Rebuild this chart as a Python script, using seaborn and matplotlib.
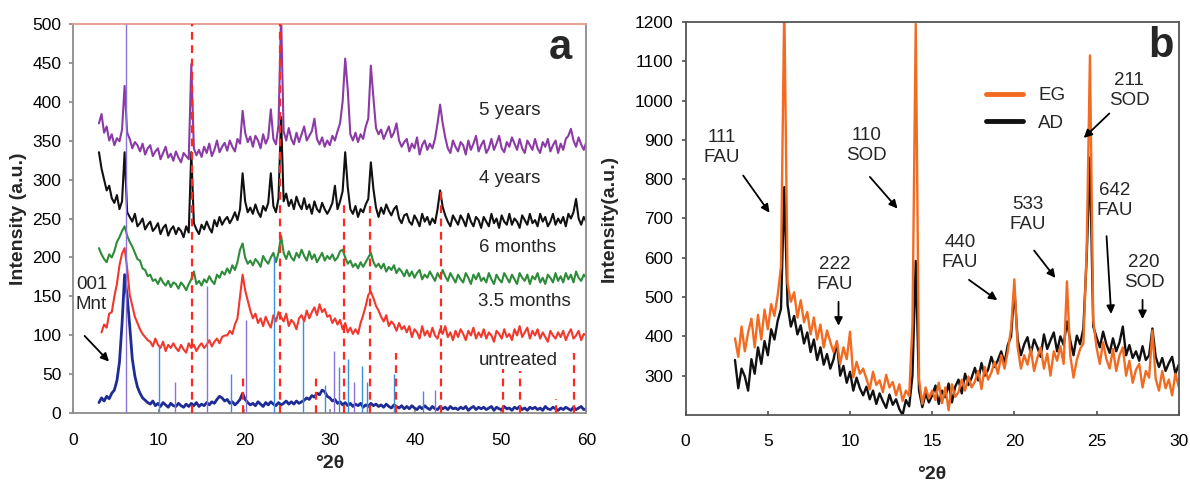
import numpy as np
import pandas as pd
import matplotlib
matplotlib.use("Agg")
import matplotlib.pyplot as plt
import seaborn as sns
from matplotlib.lines import Line2D

sns.set_theme(style="white")
plt.rcParams['font.family'] = ['Liberation Sans', 'DejaVu Sans']

# ---------------- panel a : ageing series (scan 3-60 deg, 0.3 deg step) ----------------
two_theta_a = np.round(np.arange(3.0, 60.05, 0.3), 1)

five_years = [
    372, 384, 360, 368, 350, 358, 344, 353, 349, 364,
    420, 360, 352, 340, 348, 344, 336, 346, 332, 340,
    344, 330, 336, 340, 326, 334, 342, 328, 333, 324,
    336, 328, 322, 334, 330, 326, 448, 340, 331, 338,
    329, 342, 334, 346, 330, 338, 350, 335, 342, 347,
    337, 350, 342, 336, 352, 346, 388, 360, 348, 355,
    342, 356, 350, 340, 358, 346, 354, 390, 352, 345,
    370, 510, 362, 350, 366, 352, 345, 360, 348, 358,
    368, 350, 356, 362, 378, 352, 345, 354, 342, 350,
    344, 356, 350, 362, 372, 400, 455, 415, 358, 350,
    360, 348, 358, 352, 368, 378, 446, 405, 366, 358,
    364, 352, 360, 368, 354, 360, 372, 350, 342, 348,
    352, 336, 346, 340, 354, 332, 344, 350, 338, 346,
    340, 352, 372, 396, 372, 354, 340, 334, 350, 342,
    336, 348, 344, 332, 350, 338, 346, 356, 336, 344,
    350, 334, 340, 352, 338, 346, 356, 340, 335, 348,
    342, 354, 346, 338, 352, 340, 334, 350, 344, 338,
    352, 340, 334, 348, 342, 352, 336, 344, 350, 334,
    346, 338, 352, 356, 365, 350, 342, 354, 345, 338,
    348,
]

four_years = [
    335, 314, 300, 286, 292, 276, 270, 280, 262, 272,
    335, 258, 252, 246, 256, 240, 244, 250, 236, 242,
    246, 234, 238, 244, 230, 238, 242, 228, 236, 240,
    230, 238, 234, 226, 240, 232, 335, 244, 236, 230,
    242, 236, 246, 238, 232, 248, 240, 252, 242, 248,
    252, 244, 250, 258, 248, 262, 308, 272, 258, 264,
    256, 268, 258, 252, 266, 260, 270, 308, 266, 258,
    276, 380, 272, 282, 266, 274, 262, 278, 268, 262,
    276, 262, 268, 256, 272, 262, 258, 270, 262, 256,
    262, 270, 292, 262, 272, 285, 335, 290, 262, 256,
    266, 252, 262, 258, 268, 275, 322, 288, 264, 252,
    264, 256, 268, 260, 254, 262, 266, 250, 244, 254,
    256, 246, 242, 254, 248, 240, 256, 246, 252, 242,
    250, 244, 262, 286, 265, 254, 246, 240, 254, 248,
    242, 254, 248, 240, 256, 246, 240, 252, 248, 238,
    252, 246, 240, 256, 244, 250, 238, 254, 246, 242,
    256, 242, 250, 246, 238, 254, 248, 242, 256, 244,
    248, 240, 256, 246, 252, 240, 246, 256, 242, 250,
    244, 252, 240, 256, 250, 258, 275, 250, 242, 252,
    246,
]

six_months = [
    212, 204, 198, 194, 204, 200, 208, 220, 226, 234,
    240, 228, 220, 214, 206, 198, 196, 186, 184, 176,
    178, 170, 172, 166, 174, 168, 164, 170, 162, 168,
    166, 160, 168, 164, 158, 166, 172, 182, 166, 170,
    164, 172, 168, 176, 170, 166, 178, 174, 182, 178,
    186, 180, 190, 184, 194, 210, 218, 200, 192, 196,
    190, 198, 194, 188, 202, 196, 192, 200, 206, 194,
    206, 228, 206, 198, 208, 200, 196, 206, 200, 210,
    202, 196, 208, 198, 204, 194, 200, 206, 196, 202,
    198, 204, 196, 200, 208, 210, 200, 192, 196, 188,
    192, 186, 194, 188, 194, 200, 206, 194, 188, 192,
    186, 192, 182, 188, 184, 190, 180, 186, 182, 176,
    184, 176, 182, 174, 180, 184, 172, 178, 174, 182,
    176, 170, 180, 174, 184, 176, 170, 180, 174, 168,
    178, 172, 168, 180, 174, 166, 178, 172, 180, 170,
    174, 168, 180, 172, 166, 178, 172, 168, 180, 174,
    168, 178, 172, 166, 180, 174, 170, 178, 166, 176,
    172, 180, 168, 174, 166, 178, 174, 168, 180, 170,
    176, 168, 180, 172, 178, 168, 182, 174, 170, 178,
    174,
]

three_half_months = [
    np.nan, 104, 114, 110, 128, 130, 150, 166, 190, 205,
    212, 186, 152, 138, 124, 116, 108, 102, 98, 94,
    92, 86, 96, 88, 84, 92, 80, 88, 84, 90,
    84, 80, 88, 82, 78, 90, 84, 88, 80, 86,
    90, 84, 88, 94, 86, 92, 96, 90, 98, 100,
    100, 106, 102, 114, 122, 150, 178, 158, 145, 132,
    122, 128, 116, 122, 112, 124, 116, 110, 126, 118,
    130, 124, 118, 128, 112, 120, 116, 108, 122, 126,
    118, 132, 122, 130, 136, 126, 140, 130, 134, 124,
    126, 116, 122, 114, 120, 108, 116, 104, 110, 102,
    108, 102, 116, 126, 138, 152, 156, 148, 138, 132,
    124, 118, 126, 112, 118, 114, 106, 116, 108, 112,
    104, 112, 98, 108, 104, 96, 112, 100, 106, 98,
    110, 100, 96, 108, 102, 112, 98, 104, 94, 106,
    98, 108, 102, 94, 106, 100, 110, 96, 104, 98,
    108, 96, 104, 100, 92, 106, 102, 96, 108, 98,
    102, 94, 108, 100, 112, 98, 104, 110, 96, 106,
    100, 108, 96, 104, 98, 92, 106, 100, 96, 104,
    98, 106, 94, 102, 108, 96, 100, 106, 94, 102,
    100,
]

untreated = [
    14, 20, 16, 22, 19, 26, 30, 42, 66, 115,
    178, 150, 112, 70, 48, 34, 26, 20, 17, 14,
    12, 16, 10, 13, 9, 14, 11, 8, 13, 10,
    9, 13, 10, 8, 12, 9, 13, 10, 14, 9,
    12, 10, 14, 11, 15, 13, 18, 22, 20, 16,
    18, 13, 15, 11, 14, 18, 26, 18, 14, 11,
    13, 10, 15, 12, 9, 14, 11, 15, 12, 10,
    14, 11, 13, 16, 12, 15, 12, 16, 13, 15,
    17, 20, 18, 23, 21, 26, 24, 30, 28, 22,
    20, 16, 18, 13, 15, 11, 14, 10, 13, 9,
    12, 10, 13, 8, 11, 9, 13, 10, 12, 9,
    11, 8, 12, 9, 7, 11, 9, 7, 10, 6,
    9, 6, 10, 7, 5, 9, 6, 10, 7, 5,
    9, 6, 5, 9, 6, 8, 5, 9, 6, 7,
    5, 8, 6, 9, 4, 7, 9, 5, 8, 6,
    8, 5, 7, 9, 4, 8, 6, 5, 9, 6,
    7, 4, 8, 6, 9, 5, 7, 4, 8, 6,
    8, 5, 7, 4, 9, 6, 5, 8, 6, 4,
    7, 5, 8, 6, 4, 8, 5, 7, 9, 5,
    6,
]

series_names = ["5 years", "4 years", "6 months", "3.5 months", "untreated"]
series_values = [five_years, four_years, six_months, three_half_months, untreated]
series_colors = ["#8b3aa6", "#111111", "#2e8b3a", "#f2382c", "#1f2c96"]
label_x = [47.5, 47.5, 47.4, 47.3, 47.4]
label_y = [388, 301, 213, 143, 68]

# reference pattern sticks (position, height, kind)
stick_pos = [6.15, 10.0, 11.9, 15.6, 18.45, 20.25, 23.45, 26.9, 29.4, 30.5,
             31.1, 32.1, 32.8, 33.8, 34.4, 37.55, 40.9, 42.25]
stick_height = [500, 87, 40, 164, 51, 120, 200, 118, 37, 80,
                60, 70, 40, 61, 40, 51, 29, 30]
stick_kind = ["v", "b", "v", "v", "b", "v", "b", "b", "b", "v",
              "b", "b", "v", "b", "b", "b", "b", "v"]

# zeolite reflections (red dashed markers)
marker_pos = [13.85, 24.2, 31.7, 34.75, 43.0, 37.75, 50.2, 52.3, 58.55, 19.9, 28.35, 56.5]
marker_top = [500, 500, 268, 266, 287, 78, 57, 55, 78, 48, 50, 18]

# ---------------- panel b : EG vs AD (scan 3-30 deg, 0.2 deg step) ----------------
two_theta_b = np.round(np.arange(3.0, 30.05, 0.2), 1)

eg = [
    395, 348, 425, 362, 410, 445, 372, 455, 392, 468,
    418, 482, 452, 505, 578, 1250, 535, 488, 512, 448,
    492, 436, 462, 405, 448, 392, 430, 372, 415, 386,
    360, 388, 330, 372, 342, 412, 296, 335, 305, 318,
    292, 265, 310, 276, 288, 258, 302, 270, 284, 250,
    278, 236, 262, 248, 430, 1195, 290, 228, 270, 242,
    262, 238, 282, 230, 270, 212, 278, 246, 258, 290,
    262, 298, 270, 285, 312, 266, 322, 290, 308, 335,
    305, 352, 318, 362, 420, 545, 372, 318, 352, 328,
    368, 312, 345, 372, 318, 356, 300, 362, 338, 375,
    330, 540, 352, 295, 340, 368, 382, 620, 1115, 440,
    372, 330, 385, 342, 318, 368, 312, 352, 372, 300,
    338, 282, 315, 330, 270, 312, 295, 415, 292, 262,
    312, 268, 290, 250, 305, 272,
]

ad = [
    340, 268, 318, 298, 262, 342, 305, 372, 330, 388,
    352, 418, 392, 440, 470, 780, 480, 425, 452, 405,
    428, 382, 410, 360, 392, 340, 372, 328, 355, 318,
    342, 385, 300, 325, 282, 310, 262, 295, 268, 250,
    272, 240, 262, 228, 255, 235, 218, 252, 226, 240,
    215, 200, 238, 222, 300, 592, 262, 220, 255, 232,
    250, 275, 228, 262, 245, 280, 232, 272, 290, 255,
    305, 276, 295, 320, 288, 332, 300, 315, 348, 322,
    340, 362, 332, 378, 400, 520, 392, 352, 380, 398,
    355, 392, 372, 348, 405, 368, 390, 410, 362, 400,
    378, 438, 390, 352, 402, 380, 420, 600, 855, 425,
    398, 372, 412, 380, 358, 395, 362, 385, 425, 352,
    378, 345, 362, 338, 375, 340, 352, 420, 348, 322,
    345, 312, 332, 348, 305, 328,
]

peak_labels = ["111\nFAU", "110\nSOD", "222\nFAU", "440\nFAU",
               "533\nFAU", "211\nSOD", "642\nFAU", "220\nSOD"]
peak_label_xy = [(2.2, 881), (11.0, 885), (9.1, 558), (16.7, 613),
                 (20.8, 710), (27.0, 1026), (26.1, 746), (27.9, 562)]
arrow_tail = [(3.4, 815), (11.1, 811), (9.3, 495), (17.1, 548),
              (21.1, 624), (25.9, 972), (25.6, 662), (27.8, 500)]
arrow_head = [(5.2, 709), (13.0, 720), (9.3, 420), (19.1, 488),
              (22.6, 543), (24.1, 900), (25.9, 450), (27.8, 437)]

fig = plt.figure(figsize=(11.9, 4.84), dpi=100)
ax_a = fig.add_axes([0.0616, 0.1457, 0.4311, 0.8057])
ax_b = fig.add_axes([0.5762, 0.1426, 0.4143, 0.8120])

# ---- panel a ----
for name, vals, col in zip(series_names, series_values, series_colors):
    lw = 2.0 if name == "untreated" else 1.5
    sns.lineplot(x=two_theta_a, y=vals, color=col, linewidth=lw,
                 estimator=None, sort=False, ax=ax_a)

stick_colors = ["#8a72d8" if k == "v" else "#3b8ee0" for k in stick_kind]
ax_a.vlines(stick_pos, 0, stick_height, colors=stick_colors, linewidth=1.0, zorder=4)
ax_a.vlines(marker_pos, 0, marker_top, colors="#ff2a1f", linewidth=1.6,
            linestyles=(0, (3.5, 2.5)), zorder=5)

for name, lx, ly in zip(series_names, label_x, label_y):
    ax_a.text(lx, ly, name, fontsize=13.5, ha="left", va="center")

ax_a.text(0.3, 153, "001\nMnt", fontsize=13.5, ha="left", va="center", linespacing=1.25)
ax_a.annotate("", xy=(4.4, 64), xytext=(1.1, 102),
              arrowprops=dict(arrowstyle="-|>", color="black", lw=1.3, mutation_scale=12))
ax_a.text(57.0, 468, "a", fontsize=30, fontweight="bold", ha="center", va="center")

ax_a.set_xlim(0, 60)
ax_a.set_ylim(0, 500)
ax_a.set_xticks(range(0, 61, 10))
ax_a.set_yticks(range(0, 501, 50))
ax_a.set_xlabel("°2θ", fontsize=14, fontweight="bold", labelpad=5)
ax_a.set_ylabel("Intensity (a.u.)", fontsize=14, fontweight="bold", labelpad=4)

# ---- panel b ----
sns.lineplot(x=two_theta_b, y=ad, color="#111111", linewidth=1.7,
             estimator=None, sort=False, ax=ax_b)
sns.lineplot(x=two_theta_b, y=eg, color="#f26b21", linewidth=1.7,
             estimator=None, sort=False, ax=ax_b)

for txt, (tx, ty) in zip(peak_labels, peak_label_xy):
    ax_b.text(tx, ty, txt, fontsize=13.5, ha="center", va="center", linespacing=1.25)
for tail, head in zip(arrow_tail, arrow_head):
    ax_b.annotate("", xy=head, xytext=tail,
                  arrowprops=dict(arrowstyle="-|>", color="black", lw=1.3, mutation_scale=12))
ax_b.text(28.9, 1140, "b", fontsize=30, fontweight="bold", ha="center", va="center")

handles = [Line2D([], [], color="#f26b21", lw=3.5), Line2D([], [], color="#111111", lw=3.5)]
ax_b.legend(handles, ["EG", "AD"], loc="upper left", bbox_to_anchor=(0.59, 0.858),
            frameon=False, fontsize=13.5, handlelength=2.0, handletextpad=0.8,
            labelspacing=0.55, borderpad=0)

ax_b.set_xlim(0, 30)
ax_b.set_ylim(200, 1200)
ax_b.set_xticks(range(0, 31, 5))
ax_b.set_yticks(range(300, 1201, 100))
ax_b.set_xlabel("°2θ", fontsize=14, fontweight="bold", labelpad=12)
ax_b.set_ylabel("Intensity(a.u.)", fontsize=14, fontweight="bold", labelpad=12)

for ax, spc, ypad in ((ax_a, "#8c8c8c", 5.5), (ax_b, "#555555", 6)):
    for s in ax.spines.values():
        s.set_color(spc)
        s.set_linewidth(1.3)
    ax.tick_params(axis="both", labelsize=12.5, colors="black")
    ax.tick_params(axis="x", bottom=True, direction="in", length=3, color=spc, pad=14)
    ax.tick_params(axis="y", left=True, direction="out", length=3, color=spc, pad=ypad)
    ax.grid(False)
ax_a.spines["top"].set_color("#e79a8c")

fig.savefig("out.png", dpi=100)
